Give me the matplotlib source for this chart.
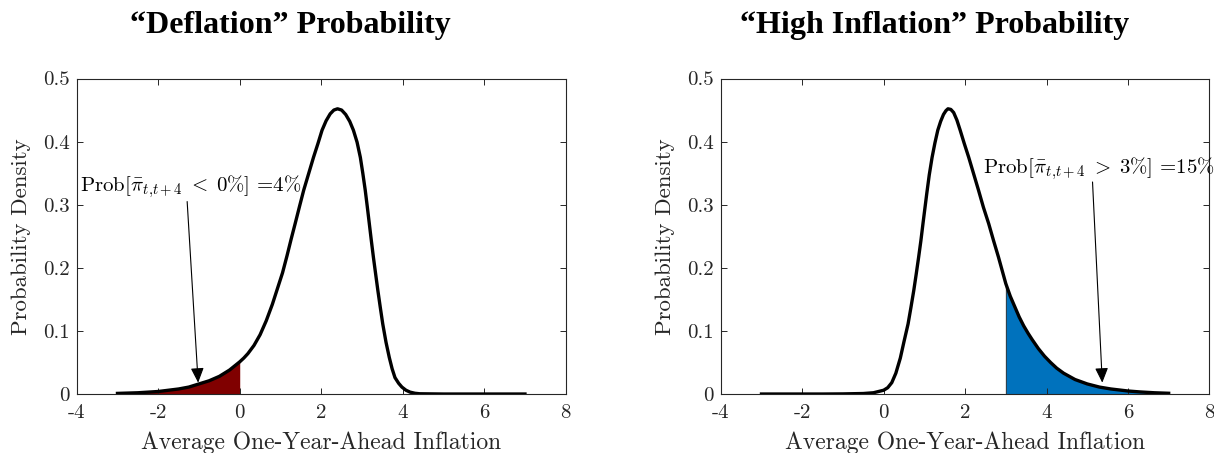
"""Densités de probabilité de l'inflation moyenne à un an"""
import numpy as np
import matplotlib.pyplot as plt

# Valeurs : courbe "déflation"
defl_x = [-3.0, -2.5, -2.0, -1.5, -1.25, -1.0, -0.75, -0.5, -0.25, 0.0, 0.1, 0.2,
          0.35, 0.5, 0.65, 0.8, 0.95, 1.05, 1.16, 1.26, 1.36, 1.47, 1.57, 1.69,
          1.81, 1.92, 2.02, 2.12, 2.22, 2.31, 2.4, 2.5, 2.6, 2.7, 2.79, 2.88, 2.96,
          3.02, 3.08, 3.13, 3.18, 3.23, 3.28, 3.34, 3.39, 3.45, 3.51, 3.59, 3.67,
          3.74, 3.81, 3.9, 3.98, 4.08, 4.18, 4.3, 4.42, 5.0, 6.0, 7.0]
defl_y = [0.001, 0.002, 0.004, 0.008, 0.011, 0.016, 0.021, 0.028, 0.038, 0.051,
          0.057, 0.064, 0.077, 0.094, 0.116, 0.142, 0.172, 0.192, 0.219, 0.245,
          0.270, 0.298, 0.323, 0.349, 0.375, 0.397, 0.418, 0.433, 0.444, 0.450,
          0.452, 0.450, 0.443, 0.432, 0.418, 0.399, 0.375, 0.350, 0.323, 0.297,
          0.270, 0.243, 0.217, 0.188, 0.164, 0.137, 0.111, 0.082, 0.058, 0.040,
          0.026, 0.017, 0.011, 0.006, 0.003, 0.0012, 0.0004, 0.0, 0.0, 0.0]

# Courbe "forte inflation"
infl_x = [-3.0, -1.5, -1.0, -0.5, -0.25, 0.0, 0.1, 0.2, 0.3, 0.41, 0.5, 0.6, 0.67,
          0.74, 0.8, 0.86, 0.915, 0.97, 1.06, 1.12, 1.19, 1.26, 1.33, 1.4, 1.47,
          1.53, 1.58, 1.65, 1.72, 1.8, 1.88, 1.98, 2.09, 2.21, 2.33, 2.45, 2.58,
          2.7, 2.82, 2.91, 3.0, 3.11, 3.23, 3.33, 3.44, 3.55, 3.65, 3.8, 3.95,
          4.1, 4.25, 4.42, 4.7, 5.0, 5.3, 5.58, 6.0, 6.3, 6.65, 7.0]
infl_y = [0.0, 0.0, 0.0002, 0.0008, 0.002, 0.006, 0.010, 0.018, 0.033, 0.057,
          0.083, 0.111, 0.137, 0.164, 0.190, 0.217, 0.243, 0.272, 0.318, 0.347,
          0.375, 0.398, 0.418, 0.432, 0.443, 0.449, 0.452, 0.451, 0.446, 0.434,
          0.418, 0.397, 0.375, 0.349, 0.323, 0.296, 0.270, 0.243, 0.217, 0.196,
          0.175, 0.155, 0.137, 0.122, 0.108, 0.096, 0.086, 0.072, 0.060, 0.050,
          0.041, 0.033, 0.023, 0.016, 0.011, 0.008, 0.0048, 0.0033, 0.002, 0.0012]

x_ticks = [-4, -2, 0, 2, 4, 6, 8]
y_ticks = [0, 0.1, 0.2, 0.3, 0.4, 0.5]
y_tick_labels = ["0", "0.1", "0.2", "0.3", "0.4", "0.5"]

plt.rcParams["font.family"] = "serif"
plt.rcParams["font.serif"] = ["cmr10", "DejaVu Serif"]
plt.rcParams["mathtext.fontset"] = "cm"
plt.rcParams["axes.unicode_minus"] = False

fig = plt.figure(figsize=(12.14, 4.53), dpi=100)
ax1 = fig.add_axes([0.0632, 0.1302, 0.4028, 0.6965])
ax2 = fig.add_axes([0.5937, 0.1302, 0.4025, 0.6965])


def style_axes(ax):
    ax.set_xlim(-4, 8)
    ax.set_ylim(0, 0.5)
    ax.set_xticks(x_ticks)
    ax.set_xticklabels([str(t) for t in x_ticks])
    ax.set_yticks(y_ticks)
    ax.set_yticklabels(y_tick_labels)
    ax.tick_params(direction="in", top=True, right=True, length=4,
                   width=0.7, labelsize=15, colors="#262626")
    ax.tick_params(axis="x", pad=7)
    ax.tick_params(axis="y", pad=5)
    for s in ax.spines.values():
        s.set_linewidth(0.8)
        s.set_color("#262626")
    ax.set_xlabel("Average One-Year-Ahead Inflation", fontsize=17,
                  color="#262626", labelpad=7)
    ax.set_ylabel("Probability Density", fontsize=16.5, color="#262626",
                  labelpad=9)


arrow = dict(arrowstyle="-|>,head_length=0.45,head_width=0.2", color="black",
             lw=0.8, mutation_scale=20, shrinkA=0, shrinkB=0)

# Panneau gauche
dx = np.array(defl_x)
dy = np.array(defl_y)
mask = dx <= 0
ax1.fill_between(dx[mask], 0, dy[mask], color="#800000", lw=0)
ax1.plot(dx, dy, color="black", lw=2.4)
style_axes(ax1)
ax1.text(-3.92, 0.328, r"$\mathrm{Prob}[\bar{\pi}_{t{,}t+4}\;<\;0\%]$ =4%",
         fontsize=15, va="center", ha="left")
ax1.annotate("", xy=(-1.02, 0.018), xytext=(-1.29, 0.305), arrowprops=arrow)

# Panneau droit
ix = np.array(infl_x)
iy = np.array(infl_y)
mask = ix >= 3
ax2.fill_between(ix[mask], 0, iy[mask], color="#0072BD", edgecolor="#202020", lw=0.6)
ax2.plot(ix, iy, color="black", lw=2.4)
style_axes(ax2)
ax2.text(2.44, 0.358, r"$\mathrm{Prob}[\bar{\pi}_{t{,}t+4}\;>\;3\%]$ =15%",
         fontsize=15, va="center", ha="left")
ax2.annotate("", xy=(5.37, 0.018), xytext=(5.13, 0.336), arrowprops=arrow)

# Titres
fig.text(290 / 1214, 1 - 25 / 453, "\u201cDeflation\u201d Probability", ha="center",
         va="center", fontsize=23, fontweight="bold", family="Liberation Serif")
fig.text(935 / 1214, 1 - 25 / 453, "\u201cHigh Inflation\u201d Probability",
         ha="center", va="center", fontsize=23, fontweight="bold",
         family="Liberation Serif")

fig.savefig("out.png", dpi=100)
